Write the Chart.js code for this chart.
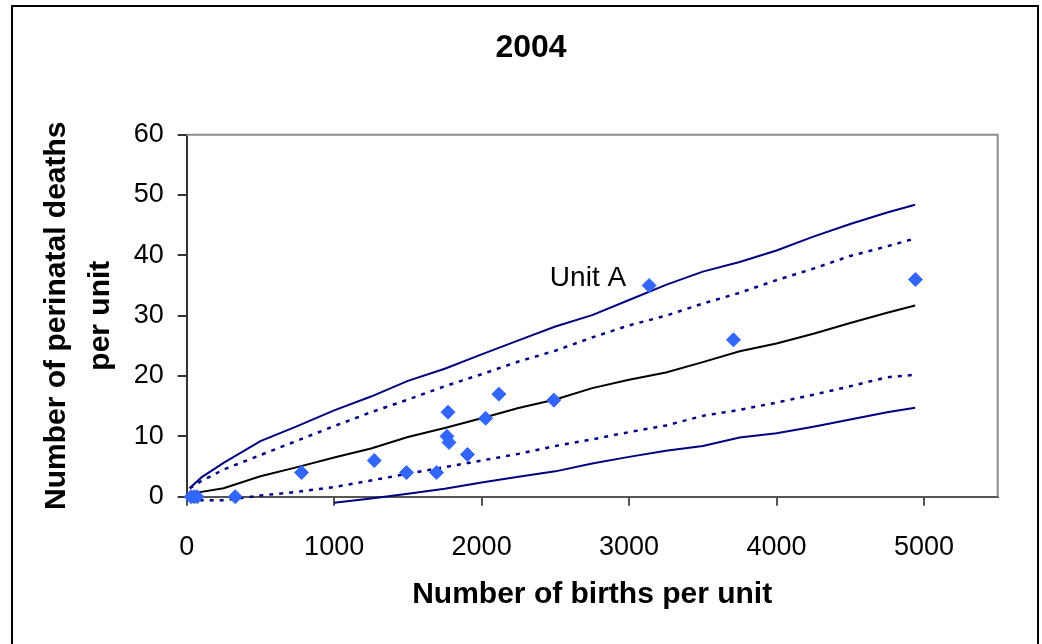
<!DOCTYPE html>
<html>
<head>
<meta charset="utf-8">
<script src="https://cdn.jsdelivr.net/npm/chart.js@4.4.0/dist/chart.umd.min.js"></script>
<style>
  html, body { margin: 0; padding: 0; background: #fff; overflow: hidden; }
  #wrap { position: relative; width: 1042px; height: 644px; }
  #frame { position: absolute; left: 11px; top: 5px; width: 1024px; height: 700px; border: 2px solid #000; }
  #chart { position: absolute; left: 0; top: 0; }
</style>
</head>
<body>
<div id="wrap">
  <div id="frame"></div>
  <canvas id="chart" width="1042" height="644"></canvas>
</div>
<script>
// --- data ---
const unitBirths = [30, 50, 70, 329, 779, 1272, 1490, 1695, 1772, 1765, 1779, 1904, 2027, 2117, 2490, 3136, 3708, 4942];
const unitDeaths = [0, 0, 0, 0, 4, 6, 4, 4, 14, 10, 9, 7, 13, 17, 16, 35, 26, 36];

// control limits, sampled along the births axis
const limitBirths = [20, 100, 250, 500, 750, 1000, 1250, 1500, 1750, 2000, 2250, 2500, 2750, 3000, 3250, 3500, 3750, 4000, 4250, 4500, 4750, 4940];
const upper998 = [1.4, 3.2, 5.6, 9.2, 11.7, 14.3, 16.6, 19.2, 21.2, 23.6, 25.9, 28.2, 30.1, 32.6, 35.1, 37.3, 38.9, 40.8, 43.1, 45.2, 47.1, 48.4];
const upper95 = [1.4, 2.6, 4.5, 6.9, 9.3, 11.7, 14.0, 16.1, 18.3, 20.3, 22.4, 24.2, 26.4, 28.4, 30.0, 32.0, 33.8, 35.9, 37.8, 39.9, 41.5, 42.8];
const meanLine = [0.5, 0.8, 1.4, 3.4, 4.9, 6.5, 8.0, 9.9, 11.4, 13.0, 14.7, 16.1, 18.0, 19.4, 20.6, 22.3, 24.1, 25.4, 27.0, 28.8, 30.5, 31.7];
const lower95 = [-0.5, -0.6, -0.6, 0.2, 0.8, 1.6, 2.7, 3.8, 4.9, 6.0, 7.1, 8.4, 9.5, 10.7, 11.8, 13.4, 14.4, 15.6, 16.9, 18.3, 19.8, 20.2];
const lower998 = [null, null, null, null, null, -1.0, -0.3, 0.5, 1.3, 2.35, 3.3, 4.2, 5.5, 6.6, 7.6, 8.4, 9.8, 10.5, 11.6, 12.8, 14.0, 14.75];

const xTicks = [0, 1000, 2000, 3000, 4000, 5000];
const chartTitle = '2004';
const labelledUnit = 15; // index of "Unit A"
const labelText = 'Unit A';

const FONT = "Arial, 'Liberation Sans', sans-serif";
const NAVY = '#000080';

function toPoints(xs, ys) {
    return xs.map((x, i) => ({ x: x, y: ys[i] })).filter(p => p.y !== null);
}

function limitLine(label, values, color, dashed) {
    return {
        type: 'line',
        label: label,
        data: toPoints(limitBirths, values),
        borderColor: color,
        borderWidth: dashed ? 2.5 : 2,
        borderDash: dashed ? [4, 6] : [],
        pointRadius: 0,
        tension: 0,
        fill: false,
        clip: false
    };
}

// gray frame on top/right of plot area, the title and the "Unit A" label
const plotExtras = {
    id: 'plotExtras',
    beforeDatasetsDraw(chart) {
        const { ctx, chartArea } = chart;
        ctx.save();
        ctx.strokeStyle = '#8c8c8c';
        ctx.lineWidth = 2;
        ctx.beginPath();
        ctx.moveTo(chartArea.left, chartArea.top);
        ctx.lineTo(chartArea.right, chartArea.top);
        ctx.lineTo(chartArea.right, chartArea.bottom);
        ctx.stroke();

        // title sits a little right of the canvas centre, like the original
        ctx.font = 'bold 32px ' + FONT;
        ctx.fillStyle = '#000';
        ctx.textAlign = 'center';
        ctx.textBaseline = 'middle';
        ctx.fillText(chartTitle, 531, 48);
        ctx.restore();
    },
    afterDatasetsDraw(chart) {
        const { ctx, scales } = chart;
        const px = scales.x.getPixelForValue(unitBirths[labelledUnit]);
        const py = scales.y.getPixelForValue(unitDeaths[labelledUnit]);
        ctx.save();
        ctx.font = '28px ' + FONT;
        ctx.fillStyle = '#000';
        ctx.textAlign = 'right';
        ctx.textBaseline = 'alphabetic';
        ctx.fillText(labelText, px - 23, py);
        ctx.restore();
    }
};

const ctx = document.getElementById('chart').getContext('2d');

new Chart(ctx, {
    type: 'scatter',
    data: {
        datasets: [
            {
                label: 'Units',
                data: toPoints(unitBirths, unitDeaths),
                backgroundColor: '#3366ff',
                borderColor: '#3366ff',
                borderWidth: 1,
                pointStyle: 'rectRot',
                pointRadius: 7,
                clip: false
            },
            limitLine('Upper 99.8%', upper998, NAVY, false),
            limitLine('Upper 95%', upper95, NAVY, true),
            limitLine('Mean', meanLine, '#000000', false),
            limitLine('Lower 95%', lower95, NAVY, true),
            limitLine('Lower 99.8%', lower998, NAVY, false)
        ]
    },
    options: {
        responsive: false,
        animation: false,
        events: [],
        layout: { padding: { left: 20, right: 44.3, top: 134.7, bottom: 0 } },
        plugins: {
            legend: { display: false },
            tooltip: { enabled: false },
            title: { display: false }
        },
        scales: {
            x: {
                type: 'linear',
                min: 0,
                max: 5500,
                afterBuildTicks: (axis) => { axis.ticks = xTicks.map(v => ({ value: v })); },
                afterFit: (axis) => { axis.height = 644 - 496.7; },
                ticks: {
                    color: '#000',
                    font: { family: FONT, size: 27 },
                    padding: 26,
                    maxRotation: 0,
                    callback: (value) => String(value)
                },
                grid: { drawOnChartArea: false, tickLength: 9, color: '#555', lineWidth: 2 },
                border: { display: true, color: '#555', width: 2 },
                title: {
                    display: true,
                    text: 'Number of births per unit',
                    color: '#000',
                    font: { family: FONT, size: 30, weight: 'bold', lineHeight: 1.2 },
                    padding: { top: 0, bottom: 31 }
                }
            },
            y: {
                min: 0,
                max: 60,
                afterFit: (axis) => { axis.width = 186.7 - 20; },
                ticks: {
                    stepSize: 10,
                    color: '#000',
                    font: { family: FONT, size: 27 },
                    padding: 14
                },
                grid: { drawOnChartArea: false, tickLength: 9, color: '#333', lineWidth: 2 },
                border: { display: true, color: '#333', width: 2 },
                title: {
                    display: true,
                    text: ['Number of perinatal deaths', 'per unit'],
                    color: '#000',
                    font: { family: FONT, size: 30, weight: 'bold', lineHeight: 1.47 },
                    padding: { top: 15, bottom: 0 }
                }
            }
        }
    },
    plugins: [plotExtras]
});
</script>
</body>
</html>
